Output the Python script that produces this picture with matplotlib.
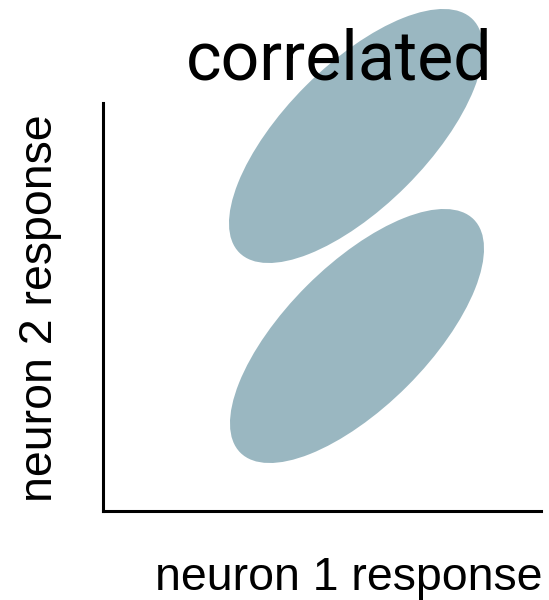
import matplotlib
matplotlib.use("Agg")
import matplotlib.pyplot as plt
from matplotlib.patches import Ellipse

# Two response-distribution ellipses (centre, full axis lengths, tilt)
centers_x = [253, 254]
centers_y = [375, 175]
major_axis = [330, 330]
minor_axis = [142, 142]
tilt_deg = [45, 45]
fill_color = "#9AB7C1"

title_text = "correlated"
xlabel_text = "neuron 1 response"
ylabel_text = "neuron 2 response"

W, H = 549, 600
fig = plt.figure(figsize=(W / 100, H / 100), dpi=100)
ax = fig.add_axes([103 / W, 1 - 511 / H, 438 / W, 408 / H])
ax.set_xlim(0, 438)
ax.set_ylim(0, 408)

for cx, cy, w, h, a in zip(centers_x, centers_y, major_axis, minor_axis, tilt_deg):
    ax.add_patch(Ellipse((cx, cy), w, h, angle=a, facecolor=fill_color,
                         edgecolor="none", clip_on=False, zorder=1))

for side in ("top", "right"):
    ax.spines[side].set_visible(False)
for side in ("left", "bottom"):
    ax.spines[side].set_linewidth(2.2)
    ax.spines[side].set_color("black")
ax.set_xticks([])
ax.set_yticks([])

fig.text(339.5 / W, 1 - 80 / H, title_text, ha="center", va="baseline",
         fontsize=49, family="Roboto", zorder=5)
fig.text(349 / W, 1 - 589.5 / H, xlabel_text, ha="center", va="baseline",
         fontsize=33.5, family="Liberation Sans")
fig.text(52 / W, 1 - 308.5 / H, ylabel_text, ha="center", va="baseline",
         rotation=90, rotation_mode="anchor", fontsize=33.5,
         family="Liberation Sans")

fig.savefig("out.png", dpi=100)
